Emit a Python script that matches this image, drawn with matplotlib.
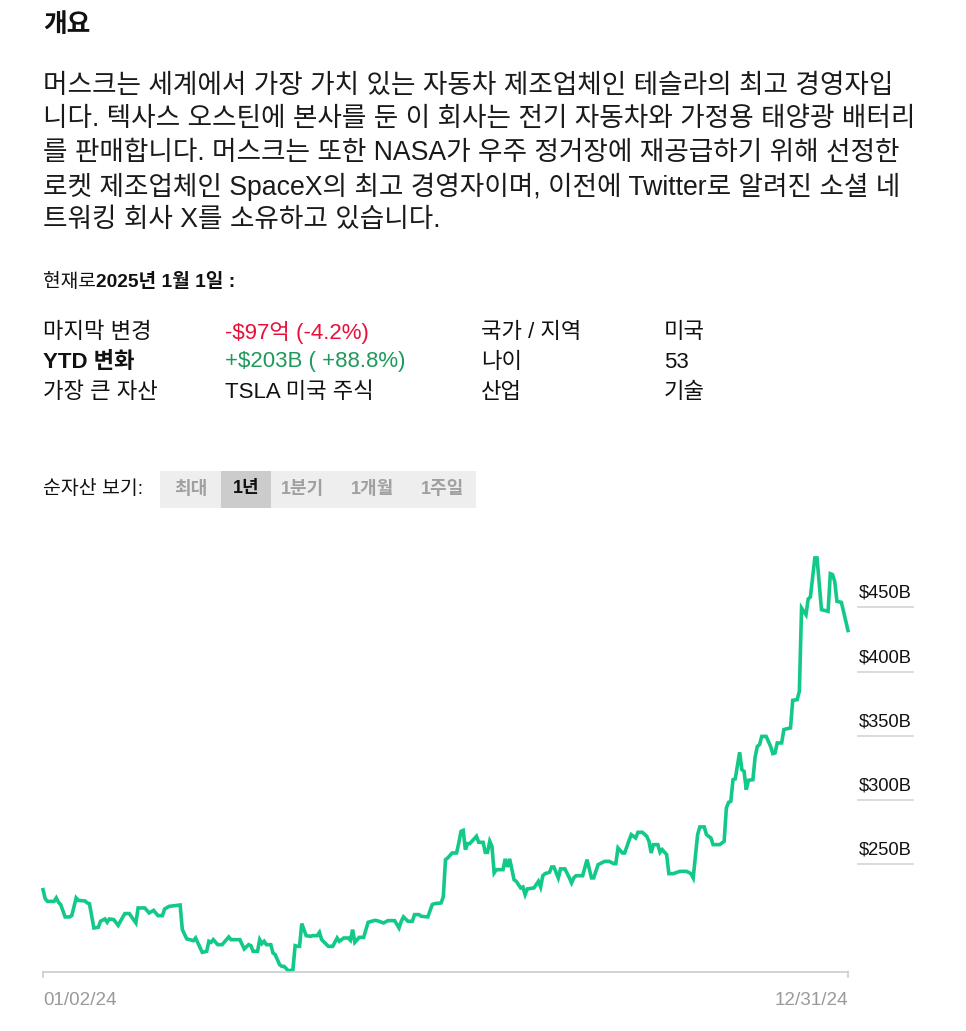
"""Musk net worth overview card with a one-year line chart."""

import matplotlib
matplotlib.use("Agg")
import matplotlib.pyplot as plt
from matplotlib.patches import Rectangle
import pandas as pd

plt.rcParams["font.family"] = ["Liberation Sans", "Noto Sans CJK KR", "DejaVu Sans"]

W, H = 966, 1031

# --- data -------------------------------------------------------------
start_date = "2024-01-02"
day_offsets = [
    0, 1, 2, 5, 6, 7, 8, 10, 12, 13, 15, 16, 19, 20, 21, 23, 25, 26, 28, 29,
    30, 32, 34, 35, 37, 39, 42, 43, 46, 48, 50, 52, 54, 55, 57, 62, 63, 65, 68, 69,
    72, 74, 75, 76, 77, 79, 81, 84, 85, 88, 89, 91, 93, 94, 95, 97, 98, 99, 100, 101,
    103, 104, 105, 107, 108, 109, 111, 113, 114, 115, 116, 117, 119, 121, 122, 124, 125, 126, 129, 131,
    133, 134, 136, 138, 139, 140, 141, 143, 145, 147, 150, 151, 154, 156, 159, 161, 162, 163, 165, 167,
    168, 170, 171, 174, 176, 177, 180, 181, 182, 183, 185, 187, 188, 189, 190, 191, 192, 193, 196, 197,
    199, 200, 201, 202, 203, 204, 205, 208, 209, 210, 211, 213, 214, 216, 217, 218, 219, 222, 224, 225,
    226, 227, 229, 230, 231, 233, 234, 236, 238, 239, 240, 241, 244, 246, 248, 249, 251, 254, 256, 258,
    259, 260, 262, 263, 265, 266, 268, 269, 271, 273, 274, 275, 276, 278, 279, 280, 282, 283, 285, 288,
    291, 293, 294, 296, 297, 299, 300, 302, 303, 306, 308, 309, 310, 311, 312, 313, 315, 316, 317, 318,
    319, 321, 322, 323, 324, 325, 327, 329, 330, 331, 332, 334, 335, 336, 338, 339, 341, 342, 343, 344,
    345, 346, 347, 349, 350, 352, 355, 356, 357, 358, 359, 361, 364,
]
net_worth_b = [
    230.1, 223.1, 221.0, 221.0, 223.7, 220.3, 218.5, 208.9, 208.9, 209.9, 223.7, 221.8, 221.3, 219.8, 219.2, 200.3, 200.8, 205.5, 207.3, 204.7,
    207.3, 206.8, 202.3, 205.5, 211.5, 211.5, 204.2, 215.9, 215.9, 212.0, 214.0, 209.9, 209.9, 215.1, 217.1, 218.2, 199.0, 191.8, 190.4, 192.5,
    181.3, 182.1, 189.9, 189.1, 191.2, 187.3, 187.3, 193.3, 191.2, 191.2, 191.2, 184.0, 187.3, 186.5, 182.1, 182.1, 191.2, 188.1, 189.9, 187.3,
    187.3, 180.8, 179.5, 171.7, 170.4, 170.4, 166.8, 167.8, 186.5, 186.0, 186.0, 203.7, 194.3, 193.8, 194.3, 194.3, 196.9, 191.2, 186.0, 186.0,
    192.5, 189.9, 192.5, 192.5, 190.7, 199.0, 189.1, 193.0, 193.0, 204.7, 206.2, 206.0, 204.2, 206.0, 206.0, 200.3, 205.5, 208.9, 205.5, 205.5,
    210.7, 210.7, 209.4, 208.9, 218.5, 219.2, 219.8, 224.5, 253.5, 254.8, 258.7, 258.7, 266.5, 275.5, 276.3, 261.3, 266.0, 266.0, 271.7, 267.0,
    267.0, 259.2, 259.2, 267.8, 263.9, 243.2, 245.7, 245.7, 254.1, 247.8, 254.1, 237.9, 236.6, 231.5, 232.2, 226.3, 230.7, 231.5, 236.6, 232.2,
    241.0, 242.6, 243.6, 247.8, 247.8, 239.3, 246.3, 246.3, 239.3, 235.4, 239.3, 241.0, 241.0, 253.5, 239.3, 239.3, 249.6, 252.2, 252.2, 250.4,
    250.4, 262.6, 258.7, 258.7, 268.5, 273.0, 270.4, 274.8, 274.8, 271.7, 267.8, 258.7, 265.2, 265.2, 259.2, 261.3, 257.4, 242.6, 242.6, 244.4,
    244.4, 242.6, 239.3, 273.0, 279.0, 279.0, 273.0, 270.4, 265.2, 265.2, 267.8, 293.8, 298.1, 298.9, 315.8, 316.4, 337.1, 323.6, 322.3, 308.0,
    315.3, 315.8, 333.5, 341.7, 343.1, 349.5, 349.5, 341.7, 336.1, 336.6, 344.4, 344.4, 354.8, 355.3, 356.1, 377.6, 378.1, 384.6, 449.5, 446.9,
    444.3, 456.5, 458.1, 488.5, 488.5, 448.2, 446.9, 476.2, 475.5, 470.2, 454.7, 453.9, 432.0,
]
y_ticks = [250, 300, 350, 400, 450]
y_tick_labels = ["$250B", "$300B", "$350B", "$400B", "$450B"]
x_tick_labels = ["01/02/24", "12/31/24"]

title = "개요"
summary_lines = [
    "머스크는 세계에서 가장 가치 있는 자동차 제조업체인 테슬라의 최고 경영자입",
    "니다. 텍사스 오스틴에 본사를 둔 이 회사는 전기 자동차와 가정용 태양광 배터리",
    "를 판매합니다. 머스크는 또한 NASA가 우주 정거장에 재공급하기 위해 선정한",
    "로켓 제조업체인 SpaceX의 최고 경영자이며, 이전에 Twitter로 알려진 소셜 네",
    "트워킹 회사 X를 소유하고 있습니다.",
]
as_of_prefix = "현재로"
as_of_date = "2025년 1월 1일 :"
stat_rows = [
    ("마지막 변경", "-$97억 (-4.2%)", "국가 / 지역", "미국"),
    ("YTD 변화", "+$203B ( +88.8%)", "나이", "53"),
    ("가장 큰 자산", "TSLA 미국 주식", "산업", "기술"),
]
range_label = "순자산 보기:"
range_buttons = ["최대", "1년", "1분기", "1개월", "1주일"]
selected_button = "1년"

GREEN_LINE = "#12c987"
RED = "#e8103b"
GREEN_TEXT = "#1d9a5b"


def px(x, y):
    """Pixel position -> figure fraction."""
    return x / W, 1 - y / H


fig = plt.figure(figsize=(W / 100, H / 100), dpi=100)
fig.patch.set_facecolor("white")

# --- header text ------------------------------------------------------
fig.text(*px(43, 25), title, fontsize=18.5, fontweight="bold", va="center", color="#111111")
for i, line in enumerate(summary_lines):
    fig.text(*px(43, 86 + i * 33.5), line, fontsize=19.2, va="center", color="#1a1a1a")

prefix = fig.text(*px(43, 282), as_of_prefix, fontsize=13.8, va="center", color="#111111")

col_x = [43, 225, 481, 664]
for r, row in enumerate(stat_rows):
    y = 332 + r * 30
    for c, cell in enumerate(row):
        color = "#111111"
        weight = "normal"
        if c == 1 and r == 0:
            color = RED
        elif c == 1 and r == 1:
            color = GREEN_TEXT
        if c == 0 and r == 1:
            weight = "bold"
        fig.text(*px(col_x[c], y), cell, fontsize=16, va="center", color=color,
                 fontweight=weight)

# --- range selector ---------------------------------------------------
fig.text(*px(43, 489), range_label, fontsize=14, va="center", color="#111111")
btn_x = [160, 221, 271, 335, 410, 476]
x0, y0 = px(btn_x[0], 508)
x1, y1 = px(btn_x[-1], 471)
fig.patches.append(Rectangle((x0, y0), x1 - x0, y1 - y0, transform=fig.transFigure,
                             facecolor="#eeeeee", edgecolor="none"))
for i, name in enumerate(range_buttons):
    left, right = btn_x[i], btn_x[i + 1]
    if name == selected_button:
        a, b = px(left, 508)
        c, d = px(right, 471)
        fig.patches.append(Rectangle((a, b), c - a, d - b, transform=fig.transFigure,
                                     facecolor="#cccccc", edgecolor="none"))
    fig.text(*px((left + right) / 2, 489), name, fontsize=13, fontweight="bold",
             ha="center", va="center",
             color="#111111" if name == selected_button else "#a0a0a0")

# --- chart ------------------------------------------------------------
dates = pd.Timestamp(start_date) + pd.to_timedelta(day_offsets, unit="D")
series = pd.Series(net_worth_b, index=dates)

ax_l, ax_b = px(43, 972)
ax_r, ax_t = px(848, 556)
ax = fig.add_axes([ax_l, ax_b, ax_r - ax_l, ax_t - ax_b])
ax.plot(series.index, series.values, color=GREEN_LINE, linewidth=2.6,
        solid_joinstyle="miter", clip_on=False)
ax.set_xlim(pd.Timestamp("2024-01-02"), pd.Timestamp("2024-12-31"))
ax.set_ylim(166, 490)
ax.set_xticks([])
ax.set_yticks([])
for side in ["top", "right", "left"]:
    ax.spines[side].set_visible(False)
ax.spines["bottom"].set_color("#cccccc")
ax.spines["bottom"].set_linewidth(1.2)
ax.set_facecolor("none")

# bold date part right after the "현재로" prefix
ax.annotate(as_of_date, xy=(1, 0.5), xycoords=prefix, va="center", ha="left",
            fontsize=13.8, fontweight="bold", color="#111111", annotation_clip=False)

# end ticks of the baseline
for xa in (0, 1):
    ax.plot([xa, xa], [0, -0.012], transform=ax.transAxes, color="#cccccc",
            linewidth=1.2, clip_on=False)

# right hand value labels with short rules
ytrans = ax.get_yaxis_transform()
for val, lab in zip(y_ticks, y_tick_labels):
    ax.plot([1.0124, 1.081], [val, val], transform=ytrans, color="#d4d4d4",
            linewidth=1.2, clip_on=False)
    ax.annotate(lab, xy=(1.0136, val), xycoords=ytrans, xytext=(0, 4),
                textcoords="offset points", fontsize=13.2, va="bottom", ha="left",
                color="#111111")

ax.text(0, -0.068, x_tick_labels[0], transform=ax.transAxes, fontsize=13.6,
        color="#9a9a9a", ha="left", va="center")
ax.text(1, -0.068, x_tick_labels[1], transform=ax.transAxes, fontsize=13.6,
        color="#9a9a9a", ha="right", va="center")

fig.savefig("out.png", dpi=100, facecolor="white")
